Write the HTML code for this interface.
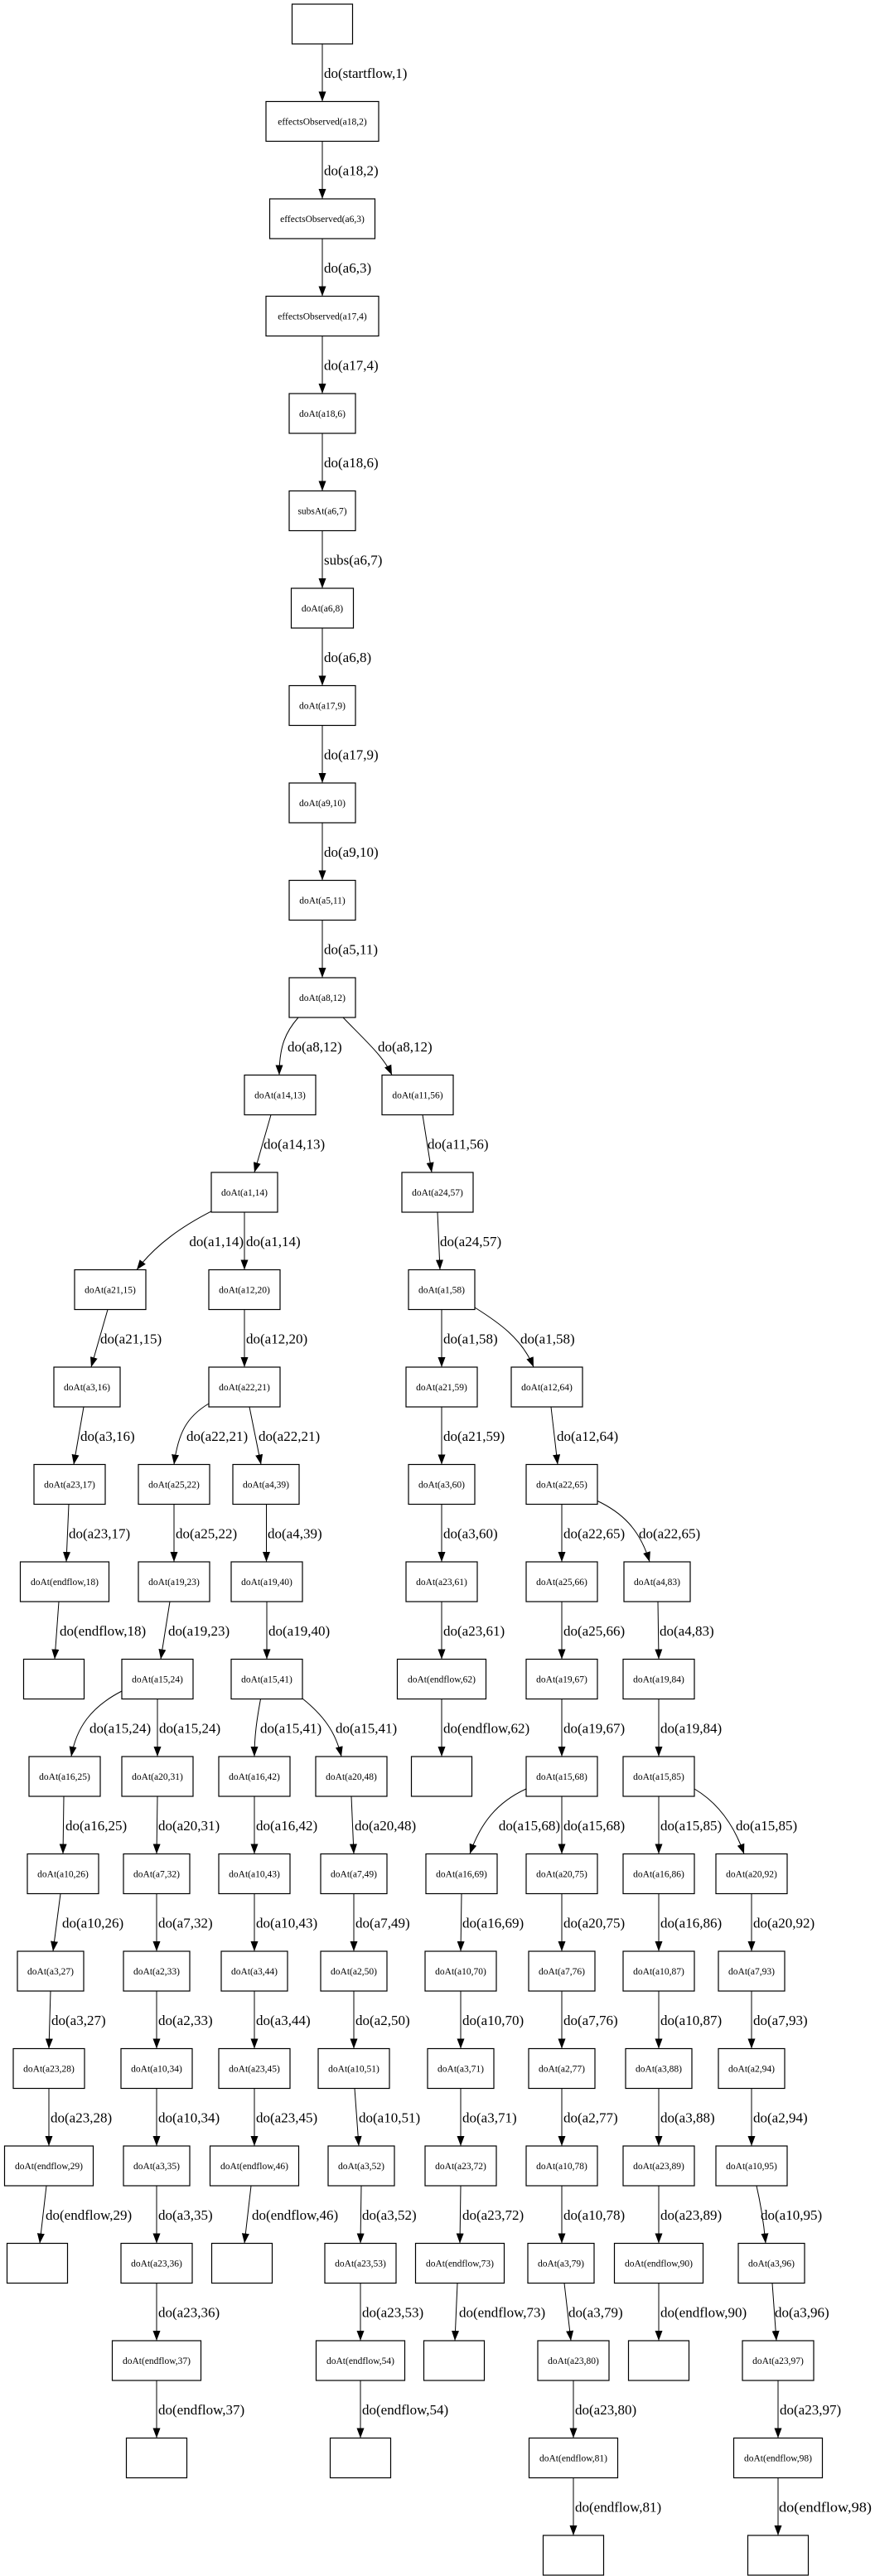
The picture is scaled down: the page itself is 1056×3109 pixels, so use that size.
<!DOCTYPE html>
<html><head><meta charset="utf-8"><style>
html,body{margin:0;padding:0;background:#fff;}
svg{display:block;}
rect{fill:#fff;stroke:#000;stroke-width:1.2;}
.e{fill:none;stroke:#000;stroke-width:1;}
.n{font-family:"Liberation Serif",serif;font-size:11.5px;text-anchor:middle;fill:#000;}
.l{font-family:"Liberation Serif",serif;font-size:17px;fill:#000;}
.le{font-family:"Liberation Serif",serif;font-size:17px;fill:#000;text-anchor:end;}
</style></head><body>
<svg width="1056" height="3109" viewBox="0 0 1056 3109" xmlns="http://www.w3.org/2000/svg">
<defs><marker id="a" viewBox="0 0 12 9" markerWidth="12" markerHeight="9" refX="12" refY="4.5" orient="auto" markerUnits="userSpaceOnUse"><path d="M0,0 L12,4.5 L0,9 z" fill="#000"/></marker></defs>
<g marker-end="url(#a)">
<!-- chain -->
<path class="e" marker-end="url(#a)" d="M389,53 L389,122.5"/>
<path class="e" marker-end="url(#a)" d="M389,170.5 L389,240"/>
<path class="e" marker-end="url(#a)" d="M389,288 L389,357.5"/>
<path class="e" marker-end="url(#a)" d="M389,405.5 L389,475"/>
<path class="e" marker-end="url(#a)" d="M389,523 L389,592.5"/>
<path class="e" marker-end="url(#a)" d="M389,640.5 L389,710"/>
<path class="e" marker-end="url(#a)" d="M389,758 L389,827.5"/>
<path class="e" marker-end="url(#a)" d="M389,875.5 L389,945"/>
<path class="e" marker-end="url(#a)" d="M389,993 L389,1062.5"/>
<path class="e" marker-end="url(#a)" d="M389,1110.5 L389,1180"/>
<!-- L11 -->
<path class="e" marker-end="url(#a)" d="M360,1228 C345,1245 337,1262 337,1297.5"/>
<path class="e" marker-end="url(#a)" d="M414,1228 C440,1255 463,1275 473,1297.5"/>
<!-- L12 -->
<path class="e" marker-end="url(#a)" d="M327,1345.5 L307,1415"/>
<path class="e" marker-end="url(#a)" d="M510,1345.5 L521,1415"/>
<!-- L13 -->
<path class="e" marker-end="url(#a)" d="M255,1462 C220,1480 188,1502 165,1532.5"/>
<path class="e" marker-end="url(#a)" d="M295,1463 L295,1532.5"/>
<path class="e" marker-end="url(#a)" d="M528,1463 L531,1532.5"/>
<!-- L14 -->
<path class="e" marker-end="url(#a)" d="M130,1580.5 L110,1650"/>
<path class="e" marker-end="url(#a)" d="M295,1580.5 L295,1650"/>
<path class="e" marker-end="url(#a)" d="M533,1580.5 L533,1650"/>
<path class="e" marker-end="url(#a)" d="M573,1578 C600,1595 630,1615 644,1650"/>
<!-- L15 -->
<path class="e" marker-end="url(#a)" d="M101,1698 L89,1767.5"/>
<path class="e" marker-end="url(#a)" d="M252,1694 C225,1710 215,1730 210,1767.5"/>
<path class="e" marker-end="url(#a)" d="M301,1698 L315,1767.5"/>
<path class="e" marker-end="url(#a)" d="M533,1698 L533,1767.5"/>
<path class="e" marker-end="url(#a)" d="M665,1698 L673,1767.5"/>
<!-- L16 -->
<path class="e" marker-end="url(#a)" d="M83,1815.5 L80,1885"/>
<path class="e" marker-end="url(#a)" d="M210,1815.5 L210,1885"/>
<path class="e" marker-end="url(#a)" d="M321.5,1815.5 L321.5,1885"/>
<path class="e" marker-end="url(#a)" d="M533,1815.5 L533,1885"/>
<path class="e" marker-end="url(#a)" d="M678,1815.5 L678,1885"/>
<path class="e" marker-end="url(#a)" d="M720,1811 C750,1825 772,1845 784,1885"/>
<!-- L17 -->
<path class="e" marker-end="url(#a)" d="M71,1933 L66,2002.5"/>
<path class="e" marker-end="url(#a)" d="M205,1933 L194,2002.5"/>
<path class="e" marker-end="url(#a)" d="M322,1933 L322,2002.5"/>
<path class="e" marker-end="url(#a)" d="M533,1933 L533,2002.5"/>
<path class="e" marker-end="url(#a)" d="M678,1933 L678,2002.5"/>
<path class="e" marker-end="url(#a)" d="M794,1933 L795,2002.5"/>
<!-- L18 -->
<path class="e" marker-end="url(#a)" d="M147,2041 C110,2060 92,2085 86,2120"/>
<path class="e" marker-end="url(#a)" d="M190,2050.5 L190,2120"/>
<path class="e" marker-end="url(#a)" d="M314.5,2050.5 C310,2075 307,2095 307,2120"/>
<path class="e" marker-end="url(#a)" d="M365,2050 C390,2070 405,2090 412,2120"/>
<path class="e" marker-end="url(#a)" d="M533,2050.5 L533,2120"/>
<path class="e" marker-end="url(#a)" d="M678,2050.5 L678,2120"/>
<path class="e" marker-end="url(#a)" d="M795,2050.5 L795,2120"/>
<!-- L19 -->
<path class="e" marker-end="url(#a)" d="M77,2168 L76,2237.5"/>
<path class="e" marker-end="url(#a)" d="M190,2168 L189,2237.5"/>
<path class="e" marker-end="url(#a)" d="M307,2168 L307,2237.5"/>
<path class="e" marker-end="url(#a)" d="M424,2168 L427,2237.5"/>
<path class="e" marker-end="url(#a)" d="M635,2159 C600,2175 580,2200 567,2237.5"/>
<path class="e" marker-end="url(#a)" d="M678,2168 L678,2237.5"/>
<path class="e" marker-end="url(#a)" d="M795,2168 L795,2237.5"/>
<path class="e" marker-end="url(#a)" d="M838,2159 C865,2175 885,2200 898,2237.5"/>
<!-- L20 -->
<path class="e" marker-end="url(#a)" d="M73,2285.5 L64,2355"/>
<path class="e" marker-end="url(#a)" d="M189,2285.5 L189,2355"/>
<path class="e" marker-end="url(#a)" d="M307,2285.5 L307,2355"/>
<path class="e" marker-end="url(#a)" d="M427,2285.5 L427,2355"/>
<path class="e" marker-end="url(#a)" d="M557,2285.5 L556,2355"/>
<path class="e" marker-end="url(#a)" d="M678,2285.5 L678,2355"/>
<path class="e" marker-end="url(#a)" d="M795,2285.5 L795,2355"/>
<path class="e" marker-end="url(#a)" d="M907,2285.5 L907,2355"/>
<!-- L21 -->
<path class="e" marker-end="url(#a)" d="M61,2403 L59,2472.5"/>
<path class="e" marker-end="url(#a)" d="M189,2403 L189,2472.5"/>
<path class="e" marker-end="url(#a)" d="M307,2403 L307,2472.5"/>
<path class="e" marker-end="url(#a)" d="M427,2403 L427,2472.5"/>
<path class="e" marker-end="url(#a)" d="M556,2403 L556,2472.5"/>
<path class="e" marker-end="url(#a)" d="M678,2403 L678,2472.5"/>
<path class="e" marker-end="url(#a)" d="M795,2403 L795,2472.5"/>
<path class="e" marker-end="url(#a)" d="M907,2403 L907,2472.5"/>
<!-- L22 -->
<path class="e" marker-end="url(#a)" d="M59,2520.5 L59,2590"/>
<path class="e" marker-end="url(#a)" d="M189,2520.5 L189,2590"/>
<path class="e" marker-end="url(#a)" d="M307,2520.5 L307,2590"/>
<path class="e" marker-end="url(#a)" d="M428,2520.5 L433,2590"/>
<path class="e" marker-end="url(#a)" d="M556,2520.5 L556,2590"/>
<path class="e" marker-end="url(#a)" d="M678,2520.5 L678,2590"/>
<path class="e" marker-end="url(#a)" d="M795,2520.5 L795,2590"/>
<path class="e" marker-end="url(#a)" d="M907,2520.5 L907,2590"/>
<!-- L23 -->
<path class="e" marker-end="url(#a)" d="M56,2638 L48,2707.5"/>
<path class="e" marker-end="url(#a)" d="M189,2638 L189,2707.5"/>
<path class="e" marker-end="url(#a)" d="M303,2638 L295,2707.5"/>
<path class="e" marker-end="url(#a)" d="M436,2638 L435,2707.5"/>
<path class="e" marker-end="url(#a)" d="M556,2638 L555,2707.5"/>
<path class="e" marker-end="url(#a)" d="M678,2638 L678,2707.5"/>
<path class="e" marker-end="url(#a)" d="M795,2638 L795,2707.5"/>
<path class="e" marker-end="url(#a)" d="M913,2638 C918,2660 922,2685 924,2707.5"/>
<!-- L24 -->
<path class="e" marker-end="url(#a)" d="M189,2755.5 L189,2825"/>
<path class="e" marker-end="url(#a)" d="M435,2755.5 L435,2825"/>
<path class="e" marker-end="url(#a)" d="M552,2755.5 L549,2825"/>
<path class="e" marker-end="url(#a)" d="M681,2755.5 L689,2825"/>
<path class="e" marker-end="url(#a)" d="M795,2755.5 L795,2825"/>
<path class="e" marker-end="url(#a)" d="M932,2755.5 L937,2825"/>
<!-- L25 -->
<path class="e" marker-end="url(#a)" d="M189,2873 L189,2942.5"/>
<path class="e" marker-end="url(#a)" d="M435,2873 L435,2942.5"/>
<path class="e" marker-end="url(#a)" d="M692,2873 L692,2942.5"/>
<path class="e" marker-end="url(#a)" d="M939,2873 L939,2942.5"/>
<!-- L26 -->
<path class="e" marker-end="url(#a)" d="M692,2990.5 L692,3060"/>
<path class="e" marker-end="url(#a)" d="M939,2990.5 L939,3060"/>
</g>

<!-- edge labels -->
<text class="l" x="391" y="94">do(startflow,1)</text>
<text class="l" x="391" y="211.5">do(a18,2)</text>
<text class="l" x="391" y="329">do(a6,3)</text>
<text class="l" x="391" y="446.5">do(a17,4)</text>
<text class="l" x="391" y="564">do(a18,6)</text>
<text class="l" x="391" y="681.5">subs(a6,7)</text>
<text class="l" x="391" y="799">do(a6,8)</text>
<text class="l" x="391" y="916.5">do(a17,9)</text>
<text class="l" x="391" y="1034">do(a9,10)</text>
<text class="l" x="391" y="1151.5">do(a5,11)</text>
<text class="l" x="347" y="1269">do(a8,12)</text>
<text class="l" x="456" y="1269">do(a8,12)</text>
<text class="l" x="318" y="1386.5">do(a14,13)</text>
<text class="l" x="516" y="1386.5">do(a11,56)</text>
<text class="le" x="294" y="1504">do(a1,14)</text>
<text class="l" x="297" y="1504">do(a1,14)</text>
<text class="l" x="531" y="1504">do(a24,57)</text>
<text class="l" x="121" y="1621.5">do(a21,15)</text>
<text class="l" x="297" y="1621.5">do(a12,20)</text>
<text class="l" x="535" y="1621.5">do(a1,58)</text>
<text class="l" x="628" y="1621.5">do(a1,58)</text>
<text class="l" x="97" y="1739">do(a3,16)</text>
<text class="l" x="225" y="1739">do(a22,21)</text>
<text class="l" x="312" y="1739">do(a22,21)</text>
<text class="l" x="535" y="1739">do(a21,59)</text>
<text class="l" x="672" y="1739">do(a12,64)</text>
<text class="l" x="83" y="1856.5">do(a23,17)</text>
<text class="l" x="212" y="1856.5">do(a25,22)</text>
<text class="l" x="323" y="1856.5">do(a4,39)</text>
<text class="l" x="535" y="1856.5">do(a3,60)</text>
<text class="l" x="680" y="1856.5">do(a22,65)</text>
<text class="l" x="771" y="1856.5">do(a22,65)</text>
<text class="l" x="72" y="1974">do(endflow,18)</text>
<text class="l" x="203" y="1974">do(a19,23)</text>
<text class="l" x="324" y="1974">do(a19,40)</text>
<text class="l" x="535" y="1974">do(a23,61)</text>
<text class="l" x="680" y="1974">do(a25,66)</text>
<text class="l" x="796" y="1974">do(a4,83)</text>
<text class="l" x="108" y="2091.5">do(a15,24)</text>
<text class="l" x="192" y="2091.5">do(a15,24)</text>
<text class="l" x="314" y="2091.5">do(a15,41)</text>
<text class="l" x="405" y="2091.5">do(a15,41)</text>
<text class="l" x="535" y="2091.5">do(endflow,62)</text>
<text class="l" x="680" y="2091.5">do(a19,67)</text>
<text class="l" x="797" y="2091.5">do(a19,84)</text>
<text class="l" x="79" y="2209">do(a16,25)</text>
<text class="l" x="191" y="2209">do(a20,31)</text>
<text class="l" x="309" y="2209">do(a16,42)</text>
<text class="l" x="428" y="2209">do(a20,48)</text>
<text class="le" x="676" y="2209">do(a15,68)</text>
<text class="l" x="680" y="2209">do(a15,68)</text>
<text class="l" x="797" y="2209">do(a15,85)</text>
<text class="l" x="888" y="2209">do(a15,85)</text>
<text class="l" x="75" y="2326.5">do(a10,26)</text>
<text class="l" x="191" y="2326.5">do(a7,32)</text>
<text class="l" x="309" y="2326.5">do(a10,43)</text>
<text class="l" x="429" y="2326.5">do(a7,49)</text>
<text class="l" x="558" y="2326.5">do(a16,69)</text>
<text class="l" x="680" y="2326.5">do(a20,75)</text>
<text class="l" x="797" y="2326.5">do(a16,86)</text>
<text class="l" x="909" y="2326.5">do(a20,92)</text>
<text class="l" x="62" y="2444">do(a3,27)</text>
<text class="l" x="191" y="2444">do(a2,33)</text>
<text class="l" x="309" y="2444">do(a3,44)</text>
<text class="l" x="429" y="2444">do(a2,50)</text>
<text class="l" x="558" y="2444">do(a10,70)</text>
<text class="l" x="680" y="2444">do(a7,76)</text>
<text class="l" x="797" y="2444">do(a10,87)</text>
<text class="l" x="909" y="2444">do(a7,93)</text>
<text class="l" x="61" y="2561.5">do(a23,28)</text>
<text class="l" x="191" y="2561.5">do(a10,34)</text>
<text class="l" x="309" y="2561.5">do(a23,45)</text>
<text class="l" x="433" y="2561.5">do(a10,51)</text>
<text class="l" x="558" y="2561.5">do(a3,71)</text>
<text class="l" x="680" y="2561.5">do(a2,77)</text>
<text class="l" x="797" y="2561.5">do(a3,88)</text>
<text class="l" x="909" y="2561.5">do(a2,94)</text>
<text class="l" x="55" y="2679">do(endflow,29)</text>
<text class="l" x="191" y="2679">do(a3,35)</text>
<text class="l" x="304" y="2679">do(endflow,46)</text>
<text class="l" x="437" y="2679">do(a3,52)</text>
<text class="l" x="558" y="2679">do(a23,72)</text>
<text class="l" x="680" y="2679">do(a10,78)</text>
<text class="l" x="797" y="2679">do(a23,89)</text>
<text class="l" x="918" y="2679">do(a10,95)</text>
<text class="l" x="191" y="2796.5">do(a23,36)</text>
<text class="l" x="437" y="2796.5">do(a23,53)</text>
<text class="l" x="554" y="2796.5">do(endflow,73)</text>
<text class="l" x="686" y="2796.5">do(a3,79)</text>
<text class="l" x="797" y="2796.5">do(endflow,90)</text>
<text class="l" x="935" y="2796.5">do(a3,96)</text>
<text class="l" x="191" y="2914">do(endflow,37)</text>
<text class="l" x="437" y="2914">do(endflow,54)</text>
<text class="l" x="694" y="2914">do(a23,80)</text>
<text class="l" x="941" y="2914">do(a23,97)</text>
<text class="l" x="694" y="3031.5">do(endflow,81)</text>
<text class="l" x="940" y="3031.5" textLength="112" lengthAdjust="spacingAndGlyphs">do(endflow,98)</text>

<!-- nodes -->
<rect x="352.5" y="5" width="73" height="48"/>
<rect x="321" y="122.5" width="136" height="48"/><text class="n" x="389" y="150.5">effectsObserved(a18,2)</text>
<rect x="325.5" y="240" width="127" height="48"/><text class="n" x="389" y="268">effectsObserved(a6,3)</text>
<rect x="321" y="357.5" width="136" height="48"/><text class="n" x="389" y="385.5">effectsObserved(a17,4)</text>
<rect x="349" y="475" width="80" height="48"/><text class="n" x="389" y="503">doAt(a18,6)</text>
<rect x="349" y="592.5" width="80" height="48"/><text class="n" x="389" y="620.5">subsAt(a6,7)</text>
<rect x="351.5" y="710" width="75" height="48"/><text class="n" x="389" y="738">doAt(a6,8)</text>
<rect x="349" y="827.5" width="80" height="48"/><text class="n" x="389" y="855.5">doAt(a17,9)</text>
<rect x="349" y="945" width="80" height="48"/><text class="n" x="389" y="973">doAt(a9,10)</text>
<rect x="349" y="1062.5" width="80" height="48"/><text class="n" x="389" y="1090.5">doAt(a5,11)</text>
<rect x="349" y="1180" width="80" height="48"/><text class="n" x="389" y="1208">doAt(a8,12)</text>

<rect x="295" y="1297.5" width="86" height="48"/><text class="n" x="338" y="1325.5">doAt(a14,13)</text>
<rect x="461" y="1297.5" width="86" height="48"/><text class="n" x="504" y="1325.5">doAt(a11,56)</text>

<rect x="255" y="1415" width="80" height="48"/><text class="n" x="295" y="1443">doAt(a1,14)</text>
<rect x="485" y="1415" width="86" height="48"/><text class="n" x="528" y="1443">doAt(a24,57)</text>

<rect x="90" y="1532.5" width="86" height="48"/><text class="n" x="133" y="1560.5">doAt(a21,15)</text>
<rect x="252" y="1532.5" width="86" height="48"/><text class="n" x="295" y="1560.5">doAt(a12,20)</text>
<rect x="493" y="1532.5" width="80" height="48"/><text class="n" x="533" y="1560.5">doAt(a1,58)</text>

<rect x="65" y="1650" width="80" height="48"/><text class="n" x="105" y="1678">doAt(a3,16)</text>
<rect x="252" y="1650" width="86" height="48"/><text class="n" x="295" y="1678">doAt(a22,21)</text>
<rect x="490" y="1650" width="86" height="48"/><text class="n" x="533" y="1678">doAt(a21,59)</text>
<rect x="617" y="1650" width="86" height="48"/><text class="n" x="660" y="1678">doAt(a12,64)</text>

<rect x="41" y="1767.5" width="86" height="48"/><text class="n" x="84" y="1795.5">doAt(a23,17)</text>
<rect x="167" y="1767.5" width="86" height="48"/><text class="n" x="210" y="1795.5">doAt(a25,22)</text>
<rect x="281" y="1767.5" width="80" height="48"/><text class="n" x="321" y="1795.5">doAt(a4,39)</text>
<rect x="493" y="1767.5" width="80" height="48"/><text class="n" x="533" y="1795.5">doAt(a3,60)</text>
<rect x="635" y="1767.5" width="86" height="48"/><text class="n" x="678" y="1795.5">doAt(a22,65)</text>

<rect x="24.5" y="1885" width="107" height="48"/><text class="n" x="78" y="1913">doAt(endflow,18)</text>
<rect x="167" y="1885" width="86" height="48"/><text class="n" x="210" y="1913">doAt(a19,23)</text>
<rect x="279" y="1885" width="86" height="48"/><text class="n" x="322" y="1913">doAt(a19,40)</text>
<rect x="490" y="1885" width="86" height="48"/><text class="n" x="533" y="1913">doAt(a23,61)</text>
<rect x="635" y="1885" width="86" height="48"/><text class="n" x="678" y="1913">doAt(a25,66)</text>
<rect x="753" y="1885" width="80" height="48"/><text class="n" x="793" y="1913">doAt(a4,83)</text>

<rect x="28.5" y="2002.5" width="73" height="48"/>
<rect x="147" y="2002.5" width="86" height="48"/><text class="n" x="190" y="2030.5">doAt(a15,24)</text>
<rect x="279" y="2002.5" width="86" height="48"/><text class="n" x="322" y="2030.5">doAt(a15,41)</text>
<rect x="479.5" y="2002.5" width="107" height="48"/><text class="n" x="533" y="2030.5">doAt(endflow,62)</text>
<rect x="635" y="2002.5" width="86" height="48"/><text class="n" x="678" y="2030.5">doAt(a19,67)</text>
<rect x="752" y="2002.5" width="86" height="48"/><text class="n" x="795" y="2030.5">doAt(a19,84)</text>

<rect x="35" y="2120" width="86" height="48"/><text class="n" x="78" y="2148">doAt(a16,25)</text>
<rect x="147" y="2120" width="86" height="48"/><text class="n" x="190" y="2148">doAt(a20,31)</text>
<rect x="264" y="2120" width="86" height="48"/><text class="n" x="307" y="2148">doAt(a16,42)</text>
<rect x="381" y="2120" width="86" height="48"/><text class="n" x="424" y="2148">doAt(a20,48)</text>
<rect x="496.5" y="2120" width="73" height="48"/>
<rect x="635" y="2120" width="86" height="48"/><text class="n" x="678" y="2148">doAt(a15,68)</text>
<rect x="752" y="2120" width="86" height="48"/><text class="n" x="795" y="2148">doAt(a15,85)</text>

<rect x="33" y="2237.5" width="86" height="48"/><text class="n" x="76" y="2265.5">doAt(a10,26)</text>
<rect x="149" y="2237.5" width="80" height="48"/><text class="n" x="189" y="2265.5">doAt(a7,32)</text>
<rect x="264" y="2237.5" width="86" height="48"/><text class="n" x="307" y="2265.5">doAt(a10,43)</text>
<rect x="387" y="2237.5" width="80" height="48"/><text class="n" x="427" y="2265.5">doAt(a7,49)</text>
<rect x="514" y="2237.5" width="86" height="48"/><text class="n" x="557" y="2265.5">doAt(a16,69)</text>
<rect x="635" y="2237.5" width="86" height="48"/><text class="n" x="678" y="2265.5">doAt(a20,75)</text>
<rect x="752" y="2237.5" width="86" height="48"/><text class="n" x="795" y="2265.5">doAt(a16,86)</text>
<rect x="864" y="2237.5" width="86" height="48"/><text class="n" x="907" y="2265.5">doAt(a20,92)</text>

<rect x="21" y="2355" width="80" height="48"/><text class="n" x="61" y="2383">doAt(a3,27)</text>
<rect x="149" y="2355" width="80" height="48"/><text class="n" x="189" y="2383">doAt(a2,33)</text>
<rect x="267" y="2355" width="80" height="48"/><text class="n" x="307" y="2383">doAt(a3,44)</text>
<rect x="387" y="2355" width="80" height="48"/><text class="n" x="427" y="2383">doAt(a2,50)</text>
<rect x="513" y="2355" width="86" height="48"/><text class="n" x="556" y="2383">doAt(a10,70)</text>
<rect x="638" y="2355" width="80" height="48"/><text class="n" x="678" y="2383">doAt(a7,76)</text>
<rect x="752" y="2355" width="86" height="48"/><text class="n" x="795" y="2383">doAt(a10,87)</text>
<rect x="867" y="2355" width="80" height="48"/><text class="n" x="907" y="2383">doAt(a7,93)</text>

<rect x="16" y="2472.5" width="86" height="48"/><text class="n" x="59" y="2500.5">doAt(a23,28)</text>
<rect x="146" y="2472.5" width="86" height="48"/><text class="n" x="189" y="2500.5">doAt(a10,34)</text>
<rect x="264" y="2472.5" width="86" height="48"/><text class="n" x="307" y="2500.5">doAt(a23,45)</text>
<rect x="384" y="2472.5" width="86" height="48"/><text class="n" x="427" y="2500.5">doAt(a10,51)</text>
<rect x="516" y="2472.5" width="80" height="48"/><text class="n" x="556" y="2500.5">doAt(a3,71)</text>
<rect x="638" y="2472.5" width="80" height="48"/><text class="n" x="678" y="2500.5">doAt(a2,77)</text>
<rect x="755" y="2472.5" width="80" height="48"/><text class="n" x="795" y="2500.5">doAt(a3,88)</text>
<rect x="867" y="2472.5" width="80" height="48"/><text class="n" x="907" y="2500.5">doAt(a2,94)</text>

<rect x="5.5" y="2590" width="107" height="48"/><text class="n" x="59" y="2618">doAt(endflow,29)</text>
<rect x="149" y="2590" width="80" height="48"/><text class="n" x="189" y="2618">doAt(a3,35)</text>
<rect x="253.5" y="2590" width="107" height="48"/><text class="n" x="307" y="2618">doAt(endflow,46)</text>
<rect x="396" y="2590" width="80" height="48"/><text class="n" x="436" y="2618">doAt(a3,52)</text>
<rect x="513" y="2590" width="86" height="48"/><text class="n" x="556" y="2618">doAt(a23,72)</text>
<rect x="635" y="2590" width="86" height="48"/><text class="n" x="678" y="2618">doAt(a10,78)</text>
<rect x="752" y="2590" width="86" height="48"/><text class="n" x="795" y="2618">doAt(a23,89)</text>
<rect x="864" y="2590" width="86" height="48"/><text class="n" x="907" y="2618">doAt(a10,95)</text>

<rect x="8.5" y="2707.5" width="73" height="48"/>
<rect x="146" y="2707.5" width="86" height="48"/><text class="n" x="189" y="2735.5">doAt(a23,36)</text>
<rect x="255.5" y="2707.5" width="73" height="48"/>
<rect x="392" y="2707.5" width="86" height="48"/><text class="n" x="435" y="2735.5">doAt(a23,53)</text>
<rect x="501.5" y="2707.5" width="107" height="48"/><text class="n" x="555" y="2735.5">doAt(endflow,73)</text>
<rect x="637" y="2707.5" width="80" height="48"/><text class="n" x="677" y="2735.5">doAt(a3,79)</text>
<rect x="741.5" y="2707.5" width="107" height="48"/><text class="n" x="795" y="2735.5">doAt(endflow,90)</text>
<rect x="891" y="2707.5" width="80" height="48"/><text class="n" x="931" y="2735.5">doAt(a3,96)</text>

<rect x="135.5" y="2825" width="107" height="48"/><text class="n" x="189" y="2853">doAt(endflow,37)</text>
<rect x="381.5" y="2825" width="107" height="48"/><text class="n" x="435" y="2853">doAt(endflow,54)</text>
<rect x="511.5" y="2825" width="73" height="48"/>
<rect x="649" y="2825" width="86" height="48"/><text class="n" x="692" y="2853">doAt(a23,80)</text>
<rect x="758.5" y="2825" width="73" height="48"/>
<rect x="896" y="2825" width="86" height="48"/><text class="n" x="939" y="2853">doAt(a23,97)</text>

<rect x="152.5" y="2942.5" width="73" height="48"/>
<rect x="398.5" y="2942.5" width="73" height="48"/>
<rect x="638.5" y="2942.5" width="107" height="48"/><text class="n" x="692" y="2970.5">doAt(endflow,81)</text>
<rect x="885.5" y="2942.5" width="107" height="48"/><text class="n" x="939" y="2970.5">doAt(endflow,98)</text>

<rect x="655.5" y="3060" width="73" height="48"/>
<rect x="902.5" y="3060" width="73" height="48"/>
</svg>
</body></html>
